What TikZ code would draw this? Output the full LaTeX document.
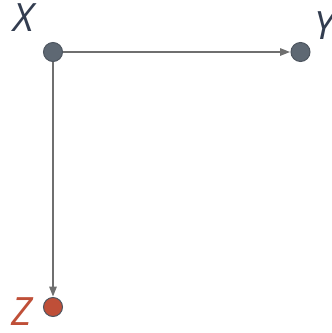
\documentclass[tikz,border=0pt]{standalone}
\usepackage{fontspec}
\setmainfont{Open Sans}
\usetikzlibrary{arrows.meta}
\definecolor{dotgray}{HTML}{5E6873}
\definecolor{dotedge}{HTML}{4E5660}
\definecolor{zred}{HTML}{BF4F38}
\definecolor{labdark}{HTML}{333D50}
\definecolor{linegray}{HTML}{6F6F6F}
\tikzset{
  dot/.style={circle, draw=dotedge, line width=1pt, fill=dotgray, minimum size=19pt, inner sep=0pt},
  lab/.style={font=\fontsize{39}{39}\selectfont\itshape, text=labdark, inner sep=0pt},
  conn/.style={draw=linegray, line width=1.4pt, -{Triangle[length=10pt,width=7.5pt]}, shorten >=0.5pt}
}
\begin{document}
\begin{tikzpicture}[x=1pt,y=-1pt]
\useasboundingbox (0,0) rectangle (332,333);
\node[dot] (x) at (53,52) {};
\node[dot] (y) at (300.5,52) {};
\node[dot, fill=zred, draw=dotedge] (z) at (53,307) {};
\node[lab] (xl) at (24,18) {X};
\node[lab] (yl) at (324,26) {Y};
\node[lab, text=zred] (zl) at (22,312) {Z};
\draw[conn] (x) -- (y);
\draw[conn] (x) -- (z);
\end{tikzpicture}
\end{document}
